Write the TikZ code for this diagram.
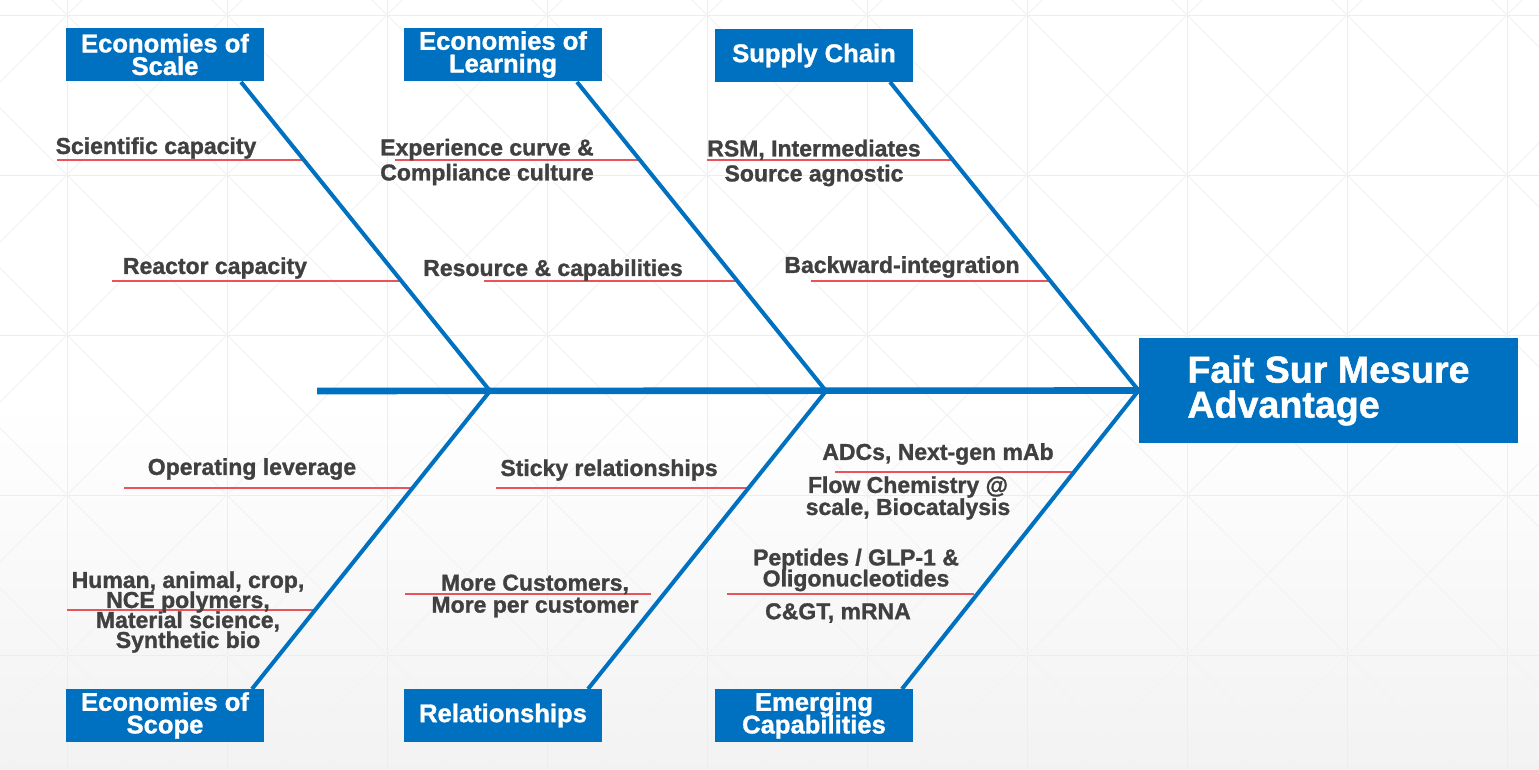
\documentclass[tikz,border=0pt]{standalone}
\usepackage{fontspec}
\setmainfont{Liberation Sans}
\newfontfamily\heavy{Liberation Sans Bold}[FakeBold=1.2]
\definecolor{fsblue}{HTML}{0070C0}
\definecolor{lblc}{HTML}{404040}
\definecolor{redl}{HTML}{E8545A}
\definecolor{gridc}{HTML}{EDEDED}
\definecolor{diagc}{HTML}{F2F2F2}
\newcommand{\lsize}[1]{\heavy\fontsize{11.5}{#1}\selectfont\lineskiplimit=-20pt\relax}
\newcommand{\csize}{\heavy\fontsize{12.8}{11.3}\selectfont\lineskiplimit=-20pt\relax}
\begin{document}
\begin{tikzpicture}[x=0.5pt,y=-0.5pt,
  catbox/.style={fill=fsblue, text=white, font=\csize,
    minimum width=99pt, minimum height=26.5pt, inner sep=0pt, align=center},
  headbox/.style={fill=fsblue, text=white, font=\heavy\fontsize{18.8}{17.5}\selectfont,
    minimum width=189.5pt, minimum height=52.5pt, inner sep=0pt, align=left},
  lbl/.style={text=lblc, font=\lsize{12.5}, align=center, inner sep=0pt},
  bone/.style={draw=fsblue, line width=2pt},
  spine/.style={draw=fsblue, line width=3.3pt},
  redline/.style={draw=redl, line width=0.6pt}]
\useasboundingbox (0,0) rectangle (1539,770);
% background
\fill[white] (0,0) rectangle (1539,400);
\shade[top color=white, bottom color=black!5] (0,400) rectangle (1539,770);
\begin{scope}
\clip (0,0) rectangle (1539,770);
\foreach \k in {-1,...,9} {
  \draw[gridc, line width=0.4pt] ({67+160*\k},0) -- ({67+160*\k},770);
}
\foreach \k in {0,...,4} {
  \draw[gridc, line width=0.4pt] (0,{15+160*\k}) -- (1539,{15+160*\k});
}
\foreach \k in {-6,...,12} {
  \draw[diagc, line width=0.4pt] ({67+160*\k},15) -- ({67+160*\k+800},815);
  \draw[diagc, line width=0.4pt] ({67+160*\k},15) -- ({67+160*\k-800},815);
  \draw[diagc, line width=0.4pt] ({67+160*\k},15) -- ({67+160*\k+100},-85);
  \draw[diagc, line width=0.4pt] ({67+160*\k},15) -- ({67+160*\k-100},-85);
}
\end{scope}

% category boxes
\node[catbox] (esc) at (165,54.5) {Economies of\\Scale};
\node[catbox] (elr) at (503,54.5) {Economies of\\Learning};
\node[catbox] (sc)  at (814,55.5) {Supply Chain};
\node[catbox] (eso) at (165,715.5) {Economies of\\Scope};
\node[catbox] (rel) at (503,715.5) {Relationships};
\node[catbox] (emc) at (814,715.5) {Emerging\\Capabilities};
\node[headbox] (head) at (1328.5,390.5) {Fait Sur Mesure\\Advantage};

% bone anchor points
\coordinate (tail) at (317,391);
\coordinate (j1) at (490,391);
\coordinate (j2) at (826,391);
\coordinate (j3) at (head.west);
\coordinate (t1) at (241,82);
\coordinate (t2) at (577,82);
\coordinate (t3) at (890,82);
\coordinate (u1) at (252,689);
\coordinate (u2) at (588,689);
\coordinate (u3) at (902,689);

% red underlines
\draw[redline] (57,160) -- (305,160);
\draw[redline] (112,281) -- (401,281);
\draw[redline] (395,160) -- (640,160);
\draw[redline] (484,281) -- (737,281);
\draw[redline] (707,160) -- (953,160);
\draw[redline] (811,281) -- (1050,281);
\draw[redline] (124,488) -- (413,488);
\draw[redline] (67,610) -- (315,610);
\draw[redline] (496,488) -- (749,488);
\draw[redline] (405,594) -- (651,594);
\draw[redline] (835,472) -- (1076,472);
\draw[redline] (727,594) -- (974,594);

% spine and bones
\draw[spine] (tail) -- (j3);
\draw[bone] (t1) -- (j1);
\draw[bone] (t2) -- (j2);
\draw[bone] (t3) -- (j3);
\draw[bone] (u1) -- (j1);
\draw[bone] (u2) -- (j2);
\draw[bone] (u3) -- (j3);

% labels
\node[lbl] (l1) at (156,148) {Scientific capacity};
\node[lbl] (l2) at (215,268) {Reactor capacity};
\node[lbl] (l3) at (487,162) {Experience curve \&\\Compliance culture};
\node[lbl] (l4) at (553,270) {Resource \& capabilities};
\node[lbl] (l5) at (814,163) {RSM, Intermediates\\Source agnostic};
\node[lbl] (l6) at (902,267) {Backward-integration};
\node[lbl] (l7) at (252,469) {Operating leverage};
\node[lbl] (l8) at (609,470) {Sticky relationships};
\node[lbl] (l9) at (938,454) {ADCs, Next-gen mAb};
\node[lbl, font=\lsize{11}] (l10) at (908,498) {Flow Chemistry @\\scale, Biocatalysis};
\node[lbl, font=\lsize{10}] (l11) at (188,612) {Human, animal, crop,\\NCE polymers,\\Material science,\\Synthetic bio};
\node[lbl, font=\lsize{11}] (l12) at (535,596) {More Customers,\\More per customer};
\node[lbl, font=\lsize{10.5}] (l13) at (856,570) {Peptides / GLP-1 \&\\Oligonucleotides};
\node[lbl] (l14) at (838,613) {C\&GT, mRNA};
\end{tikzpicture}
\end{document}
